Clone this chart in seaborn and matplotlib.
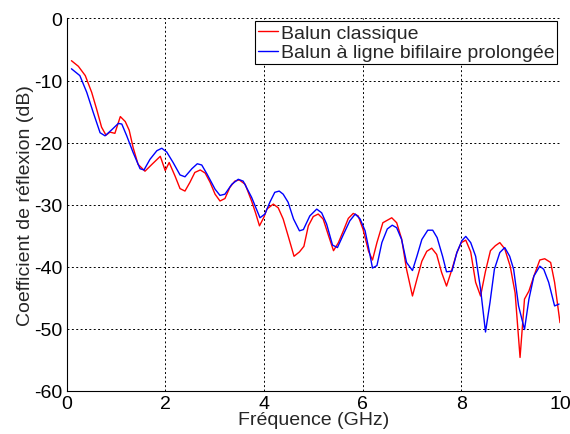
import pandas as pd
import matplotlib
matplotlib.use("Agg")
import matplotlib.pyplot as plt
import seaborn as sns

# Balun classique (red)
freq_classique = [0.1, 0.24, 0.38, 0.51, 0.61, 0.71, 0.80, 0.88, 0.98, 1.09, 1.19, 1.27, 1.35, 1.45,
                  1.59, 1.73, 1.90, 2.0, 2.08, 2.2, 2.3, 2.4, 2.5, 2.6, 2.71, 2.81, 2.91, 3.01, 3.11,
                  3.21, 3.31, 3.41, 3.50, 3.62, 3.75, 3.83, 3.91, 4.0, 4.06, 4.19, 4.29, 4.39, 4.49,
                  4.61, 4.72, 4.81, 4.90, 5.0, 5.10, 5.20, 5.31, 5.41, 5.51, 5.61, 5.71, 5.81, 5.91,
                  6.01, 6.12, 6.20, 6.29, 6.41, 6.50, 6.59, 6.69, 6.79, 6.89, 7.01, 7.10, 7.20, 7.30,
                  7.40, 7.50, 7.60, 7.70, 7.81, 7.91, 8.0, 8.09, 8.19, 8.29, 8.39, 8.49, 8.59, 8.69,
                  8.78, 8.88, 8.99, 9.09, 9.19, 9.28, 9.37, 9.47, 9.59, 9.69, 9.81, 9.89, 10.0]
s11_classique = [-6.8, -7.7, -9.2, -11.9, -14.6, -17.5, -18.8, -18.3, -18.5, -15.8, -16.6, -18.0, -20.8,
                 -23.5, -24.6, -23.5, -22.2, -24.5, -23.2, -25.4, -27.4, -27.8, -26.4, -24.8, -24.4,
                 -24.9, -26.4, -28.3, -29.4, -29.0, -27.2, -26.2, -26.0, -26.7, -29.4, -31.3, -33.4,
                 -32.0, -30.7, -29.9, -30.5, -32.3, -35.0, -38.3, -37.6, -36.7, -33.4, -31.9, -31.5,
                 -32.3, -35.0, -37.4, -36.1, -34.2, -32.2, -31.4, -31.8, -34.0, -37.5, -38.9, -36.1,
                 -32.9, -32.5, -32.1, -32.9, -35.5, -40.4, -44.7, -42.0, -39.1, -37.5, -37.0, -38.0,
                 -40.9, -43.1, -40.4, -37.7, -36.1, -35.7, -37.6, -42.5, -44.7, -40.7, -37.4, -36.6,
                 -36.1, -37.1, -39.9, -44.2, -54.6, -45.2, -43.9, -41.5, -38.9, -38.7, -39.3, -42.5,
                 -49.0]

# Balun a ligne bifilaire prolongee (blue)
freq_bifilaire = [0.1, 0.27, 0.41, 0.54, 0.68, 0.78, 0.92, 1.05, 1.12, 1.22, 1.35, 1.49, 1.57, 1.69,
                  1.83, 1.93, 2.03, 2.16, 2.30, 2.40, 2.54, 2.65, 2.74, 2.85, 3.01, 3.11, 3.21, 3.35,
                  3.48, 3.58, 3.75, 3.92, 4.02, 4.12, 4.22, 4.31, 4.39, 4.49, 4.60, 4.72, 4.80, 4.93,
                  5.07, 5.17, 5.27, 5.39, 5.49, 5.61, 5.74, 5.85, 5.95, 6.05, 6.12, 6.20, 6.29, 6.39,
                  6.50, 6.60, 6.69, 6.79, 6.89, 7.01, 7.10, 7.20, 7.32, 7.42, 7.51, 7.62, 7.70, 7.81,
                  7.91, 8.01, 8.09, 8.19, 8.29, 8.39, 8.49, 8.58, 8.67, 8.78, 8.88, 8.98, 9.06, 9.16,
                  9.28, 9.37, 9.47, 9.59, 9.67, 9.77, 9.89, 9.98]
s11_bifilaire = [-8.1, -9.2, -11.9, -15.1, -18.4, -18.9, -17.9, -16.9, -17.0, -18.9, -21.6, -24.2,
                 -24.4, -22.7, -21.3, -20.9, -21.5, -23.2, -25.2, -25.5, -24.2, -23.4, -23.6, -25.1,
                 -27.5, -28.5, -28.3, -26.7, -25.9, -26.2, -28.8, -32.1, -31.5, -29.6, -28.0, -27.8,
                 -28.3, -29.6, -32.3, -34.2, -34.0, -31.8, -30.7, -31.3, -33.1, -36.5, -36.9, -34.8,
                 -32.6, -31.5, -32.3, -34.2, -36.9, -40.2, -39.8, -36.1, -33.9, -33.3, -33.7, -35.6,
                 -39.3, -40.6, -38.3, -35.6, -34.1, -34.1, -35.3, -38.3, -40.8, -40.7, -37.7, -35.8,
                 -35.1, -36.1, -38.3, -43.6, -50.5, -45.8, -40.4, -37.7, -36.9, -38.3, -40.4, -46.3,
                 -50.1, -45.2, -41.5, -39.9, -40.4, -42.5, -46.3, -46.0]

labels = ["Balun classique", "Balun à ligne bifilaire prolongée"]

sns.set_style("white")
plt.rcParams['font.family'] = ['Liberation Sans', 'DejaVu Sans']
plt.rcParams['font.size'] = 14
plt.rcParams['axes.unicode_minus'] = False

df = pd.concat([
    pd.DataFrame({"f": freq_classique, "s11": s11_classique, "serie": labels[0]}),
    pd.DataFrame({"f": freq_bifilaire, "s11": s11_bifilaire, "serie": labels[1]}),
])

fig = plt.figure(figsize=(5.7, 4.35), dpi=100)
ax = fig.add_axes([0.1167, 0.0989, 0.8658, 0.8563])

sns.lineplot(data=df, x="f", y="s11", hue="serie", palette=["#ff0000", "#0000ff"],
             estimator=None, sort=False, linewidth=1.0, ax=ax)

ax.set_xlim(0, 10)
ax.set_ylim(-60, 0)
ax.set_xticks([0, 2, 4, 6, 8, 10])
ax.set_yticks([0, -10, -20, -30, -40, -50, -60])
ax.grid(True, color="black", linestyle=(0, (2, 2.5)), linewidth=0.7)
ax.tick_params(direction="in", length=4, width=0.7, labelsize=14, colors="black")
ax.tick_params(axis="x", pad=3)
ax.tick_params(axis="y", pad=3)
for side in ["top", "right"]:
    ax.spines[side].set_visible(False)
for side in ["left", "bottom"]:
    ax.spines[side].set_color("black")
    ax.spines[side].set_linewidth(0.8)

ax.set_xlabel("Fréquence (GHz)", fontsize=14, labelpad=-1)
ax.set_ylabel("Coefficient de réflexion (dB)", fontsize=14, labelpad=0)

leg = ax.legend(loc="upper right", fontsize=14, frameon=True, fancybox=False,
                handlelength=1.0, handletextpad=0.15, borderpad=0.15, labelspacing=0.1,
                borderaxespad=0.15, framealpha=1)
leg.get_frame().set_edgecolor("black")
leg.get_frame().set_linewidth(0.8)

fig.savefig("out.png", dpi=100)
